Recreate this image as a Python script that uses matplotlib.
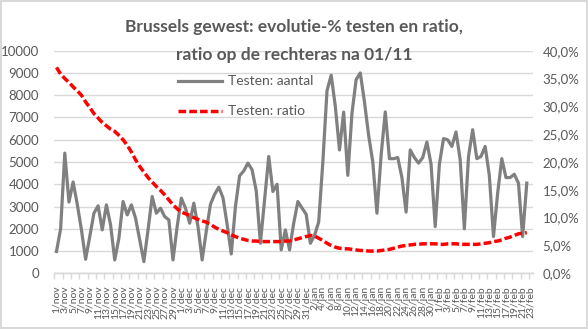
import matplotlib as mpl

mpl.rcParams.update({
    'figure.dpi': 100,
    'font.family': 'sans-serif',
    'font.sans-serif': ['Lato', 'DejaVu Sans'],
    'font.size': 9,
    'axes.linewidth': 1.0,
    'xtick.color': '#595959',
    'ytick.color': '#595959',
    'legend.frameon': False,
})

import numpy as np
import pandas as pd
import matplotlib.pyplot as plt
from matplotlib.ticker import FixedLocator, FuncFormatter

GRID = "#D9D9D9"
TEXT = "#595959"

# dagelijkse reeks vanaf 1 november
START_DATE = "2020-11-01"
AXIS_END_DATE = "2021-02-23"
MONTHS = {11: "nov", 12: "dec", 1: "jan", 2: "feb"}

testen_aantal = [
    980, 2000, 5400, 3200, 4100, 3100, 1950, 630, 1650, 2700,
    3030, 1950, 3075, 2175, 600, 1575, 3225, 2625, 3075, 2475,
    1500, 525, 1950, 3450, 2700, 2925, 2550, 2400, 600, 2100,
    3375, 2925, 2250, 3150, 2100, 600, 1900, 3100, 3550, 3870,
    3400, 2200, 870, 3000, 4380, 4600, 4950, 4650, 3700, 1350,
    3300, 5250, 3675, 4000, 1050, 1950, 1050, 2250, 3225, 2930,
    2650, 1350, 1700, 2300, 5000, 8200, 8900, 7500, 5540, 7240,
    4400, 7200, 8700, 9000, 7700, 6200, 5000, 2700, 5300, 7250,
    5150, 5150, 5200, 4300, 2750, 5540, 5200, 4950, 5200, 5900,
    4900, 2100, 4900, 6050, 6000, 5700, 6350, 5100, 2000, 5250,
    6450, 5150, 5250, 5700, 4400, 1650, 3600, 5150, 4300, 4300,
    4450, 4050, 1650, 4050,
]

testen_ratio = [
    37.0, 35.8, 35.0, 34.3, 33.5, 32.8, 32.0, 30.8, 29.8, 28.7,
    27.9, 27.1, 26.5, 25.9, 25.5, 24.8, 24.0, 23.0, 21.8, 20.4,
    19.2, 18.2, 17.2, 16.4, 15.6, 14.9, 14.1, 13.2, 12.3, 11.6,
    11.0, 10.7, 10.4, 10.0, 9.7, 9.4, 9.2, 8.8, 8.3, 7.9,
    7.6, 7.3, 6.9, 6.6, 6.3, 6.1, 5.9, 5.8, 5.8, 5.7,
    5.7, 5.7, 5.7, 5.7, 5.7, 5.8, 5.8, 6.0, 6.2, 6.4,
    6.6, 6.8, 6.7, 6.3, 5.9, 5.4, 5.0, 4.7, 4.5, 4.4,
    4.4, 4.3, 4.2, 4.1, 4.1, 4.0, 4.0, 4.0, 4.1, 4.2,
    4.3, 4.5, 4.7, 4.9, 5.0, 5.1, 5.2, 5.2, 5.3, 5.3,
    5.3, 5.3, 5.2, 5.2, 5.3, 5.3, 5.3, 5.2, 5.2, 5.2,
    5.2, 5.2, 5.3, 5.4, 5.5, 5.7, 5.8, 6.0, 6.3, 6.5,
    6.8, 7.1, 7.2, 7.3,
]


def plot_testen():
    dates = pd.date_range(START_DATE, AXIS_END_DATE, freq="D")
    n_axis = len(dates)
    x = np.arange(len(testen_aantal))

    fig = plt.figure(figsize=(5.88, 3.29))
    fig.patch.set_edgecolor(GRID)
    fig.patch.set_linewidth(1.5)

    ax = fig.add_axes([0.0925, 0.1693, 0.814, 0.6766])
    ax2 = ax.twinx()

    ax.plot(x, testen_aantal, color="#808080", linewidth=2.3,
            solid_joinstyle="round", label="Testen: aantal")
    ax2.plot(x, np.array(testen_ratio) / 100, color="#FF0000", linewidth=2.5,
             linestyle=(0, (2.2, 0.9)), dash_capstyle="butt",
             label="Testen: ratio")

    ax.set_xlim(-0.5, n_axis - 0.5)
    ax.set_ylim(0, 10000)
    ax2.set_ylim(0, 0.40)

    ax.set_yticks(np.arange(0, 10001, 1000))
    ax2.set_yticks(np.arange(0, 0.401, 0.05))
    ax2.yaxis.set_major_formatter(
        FuncFormatter(lambda v, p: f"{v * 100:.1f}%".replace(".", ",")))

    ax.grid(axis="y", color=GRID, linewidth=1.0)
    ax.set_axisbelow(True)

    for a in (ax, ax2):
        for side in ("top", "left", "right"):
            a.spines[side].set_visible(False)
        a.spines["bottom"].set_color(GRID)
    ax.tick_params(axis="y", length=0, pad=11, labelsize=9.5, colors=TEXT)
    ax2.tick_params(axis="y", length=0, pad=7, labelsize=9.5, colors=TEXT)

    # labels om de twee dagen, streepjes tussen de groepen
    label_pos = np.arange(0, n_axis, 2)
    labels = [f"{d.day}/{MONTHS[d.month]}" for d in dates[label_pos]]
    ax.set_xticks(label_pos)
    ax.set_xticklabels(labels, rotation=90, fontsize=7.5, color=TEXT,
                       va="top", ha="center")
    ax.xaxis.set_minor_locator(FixedLocator(np.arange(-0.5, n_axis, 2)))
    ax.tick_params(axis="x", which="major", length=0, pad=9)
    ax.tick_params(axis="x", which="minor", length=4, color=GRID, width=1)

    fig.text(0.5, 0.917, "Brussels gewest: evolutie-% testen en ratio,",
             ha="center", va="center", fontsize=12.5, fontweight="bold",
             color=TEXT)
    fig.text(0.5, 0.833, "ratio op de rechteras na 01/11",
             ha="center", va="center", fontsize=12.5, fontweight="bold",
             color=TEXT)

    h1, l1 = ax.get_legend_handles_labels()
    h2, l2 = ax2.get_legend_handles_labels()
    ax2.legend(h1 + h2, l1 + l2, loc="upper left",
               bbox_to_anchor=(0.232, 0.945), handlelength=3.2,
               handletextpad=0.4, labelspacing=1.3, fontsize=10,
               labelcolor=TEXT)

    fig.savefig("out.png", dpi=100)
    plt.close(fig)


if __name__ == "__main__":
    plot_testen()
